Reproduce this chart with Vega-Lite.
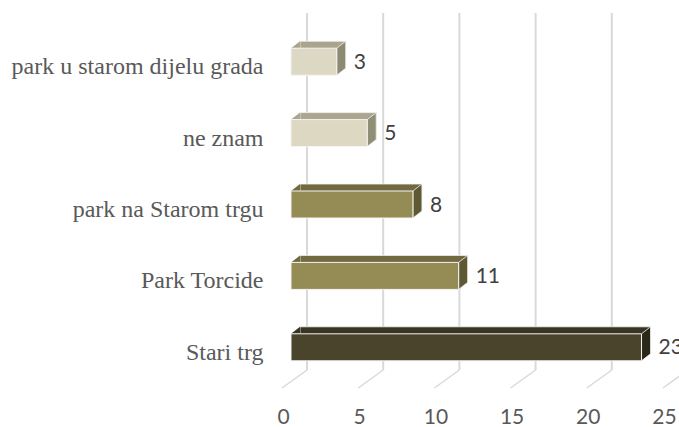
{
  "$schema": "https://vega.github.io/schema/vega-lite/v6.json",
  "width": 381,
  "height": 357,
  "autosize": {"type": "none"},
  "padding": {"left": 291, "top": 13, "right": 7, "bottom": 57},
  "background": "white",
  "config": {"view": {"stroke": null}},
  "datasets": {
    "bars": [
      {"kategorija": "park u starom dijelu grada", "broj": 3},
      {"kategorija": "ne znam", "broj": 5},
      {"kategorija": "park na Starom trgu", "broj": 8},
      {"kategorija": "Park Torcide", "broj": 11},
      {"kategorija": "Stari trg", "broj": 23}
    ],
    "ticks": [{"t": 0}, {"t": 5}, {"t": 10}, {"t": 15}, {"t": 20}, {"t": 25}]
  },
  "data": {"name": "bars"},
  "resolve": {"scale": {"color": "independent"}},
  "layer": [
    {
      "data": {"name": "ticks"},
      "mark": {"type": "rule", "color": "#d9d9d9", "strokeWidth": 2, "xOffset": 16},
      "encoding": {
        "x": {"field": "t", "type": "quantitative", "scale": {"domain": [0, 25], "nice": false, "zero": true}}
      }
    },
    {
      "data": {"name": "ticks"},
      "mark": {"type": "rule", "color": "#d9d9d9", "strokeWidth": 1.5, "xOffset": 16, "x2Offset": -9, "y2Offset": 18},
      "encoding": {
        "x": {"field": "t", "type": "quantitative"},
        "x2": {"field": "t"},
        "y": {"value": "height"},
        "y2": {"value": "height"}
      }
    },
    {
      "mark": {"type": "bar", "size": 27, "xOffset": 9, "x2Offset": 9, "yOffset": 6, "y2Offset": 6, "stroke": "#f4f4f4", "strokeWidth": 0.8},
      "encoding": {
        "y": {"field": "kategorija", "type": "nominal", "sort": ["park u starom dijelu grada", "ne znam", "park na Starom trgu", "Park Torcide", "Stari trg"], "scale": {"paddingInner": 0, "paddingOuter": 0},
          "axis": {"title": null, "ticks": false, "tickSize": 0, "domain": false, "grid": false, "labelFont": "Liberation Serif", "labelFontSize": 24, "labelColor": "#595959", "labelPadding": 28, "labelOffset": 18.5, "labelLimit": 400}},
        "x": {"field": "broj", "type": "quantitative",
          "axis": {"title": null, "values": [0, 5, 10, 15, 20, 25], "ticks": false, "tickSize": 0, "domain": false, "grid": false, "labelFont": "Lato", "labelFontSize": 21, "labelColor": "#595959", "labelPadding": 36, "labelOffset": -8, "labelFlush": false, "labelOverlap": false}},
        "color": {"field": "kategorija", "type": "nominal", "legend": null, "scale": {"domain": ["park u starom dijelu grada", "ne znam", "park na Starom trgu", "Park Torcide", "Stari trg"], "range": ["#a8a48e", "#aaa690", "#716a41", "#716a41", "#3a3523"]}}
      }
    },
    {
      "mark": {"type": "point", "filled": true, "opacity": 1, "size": 1681, "yOffset": 13, "shape": "M0,-0.6585L0.439,-1L0.439,-0.6585Z"},
      "encoding": {
        "y": {"field": "kategorija", "type": "nominal", "sort": ["park u starom dijelu grada", "ne znam", "park na Starom trgu", "Park Torcide", "Stari trg"]},
        "x": {"datum": 0, "type": "quantitative"},
        "color": {"field": "kategorija", "type": "nominal", "legend": null, "scale": {"domain": ["park u starom dijelu grada", "ne znam", "park na Starom trgu", "Park Torcide", "Stari trg"], "range": ["#a8a48e", "#aaa690", "#716a41", "#716a41", "#3a3523"]}}
      }
    },
    {
      "mark": {"type": "point", "filled": true, "opacity": 1, "size": 1681, "yOffset": 13, "stroke": "#f4f4f4", "strokeWidth": 0.8, "shape": "M0,-0.6585L0,0.6585L0.439,0.317L0.439,-1Z"},
      "encoding": {
        "y": {"field": "kategorija", "type": "nominal", "sort": ["park u starom dijelu grada", "ne znam", "park na Starom trgu", "Park Torcide", "Stari trg"]},
        "x": {"field": "broj", "type": "quantitative"},
        "color": {"field": "kategorija", "type": "nominal", "legend": null, "scale": {"domain": ["park u starom dijelu grada", "ne znam", "park na Starom trgu", "Park Torcide", "Stari trg"], "range": ["#8c8a72", "#8f8e76", "#5e5833", "#5e5833", "#2b2818"]}}
      }
    },
    {
      "mark": {"type": "bar", "size": 27, "yOffset": 13, "y2Offset": 13, "stroke": "#f4f4f4", "strokeWidth": 1},
      "encoding": {
        "y": {"field": "kategorija", "type": "nominal", "sort": ["park u starom dijelu grada", "ne znam", "park na Starom trgu", "Park Torcide", "Stari trg"]},
        "x": {"field": "broj", "type": "quantitative"},
        "color": {"field": "kategorija", "type": "nominal", "legend": null, "scale": {"domain": ["park u starom dijelu grada", "ne znam", "park na Starom trgu", "Park Torcide", "Stari trg"], "range": ["#ddd8c3", "#dcd8c2", "#958b55", "#958b55", "#4a442d"]}}
      }
    },
    {
      "mark": {"type": "text", "align": "left", "baseline": "middle", "xOffset": 17, "yOffset": 14, "font": "Lato", "fontSize": 21, "color": "#404040"},
      "encoding": {
        "y": {"field": "kategorija", "type": "nominal", "sort": ["park u starom dijelu grada", "ne znam", "park na Starom trgu", "Park Torcide", "Stari trg"]},
        "x": {"field": "broj", "type": "quantitative"},
        "text": {"field": "broj", "type": "quantitative"}
      }
    }
  ]
}
